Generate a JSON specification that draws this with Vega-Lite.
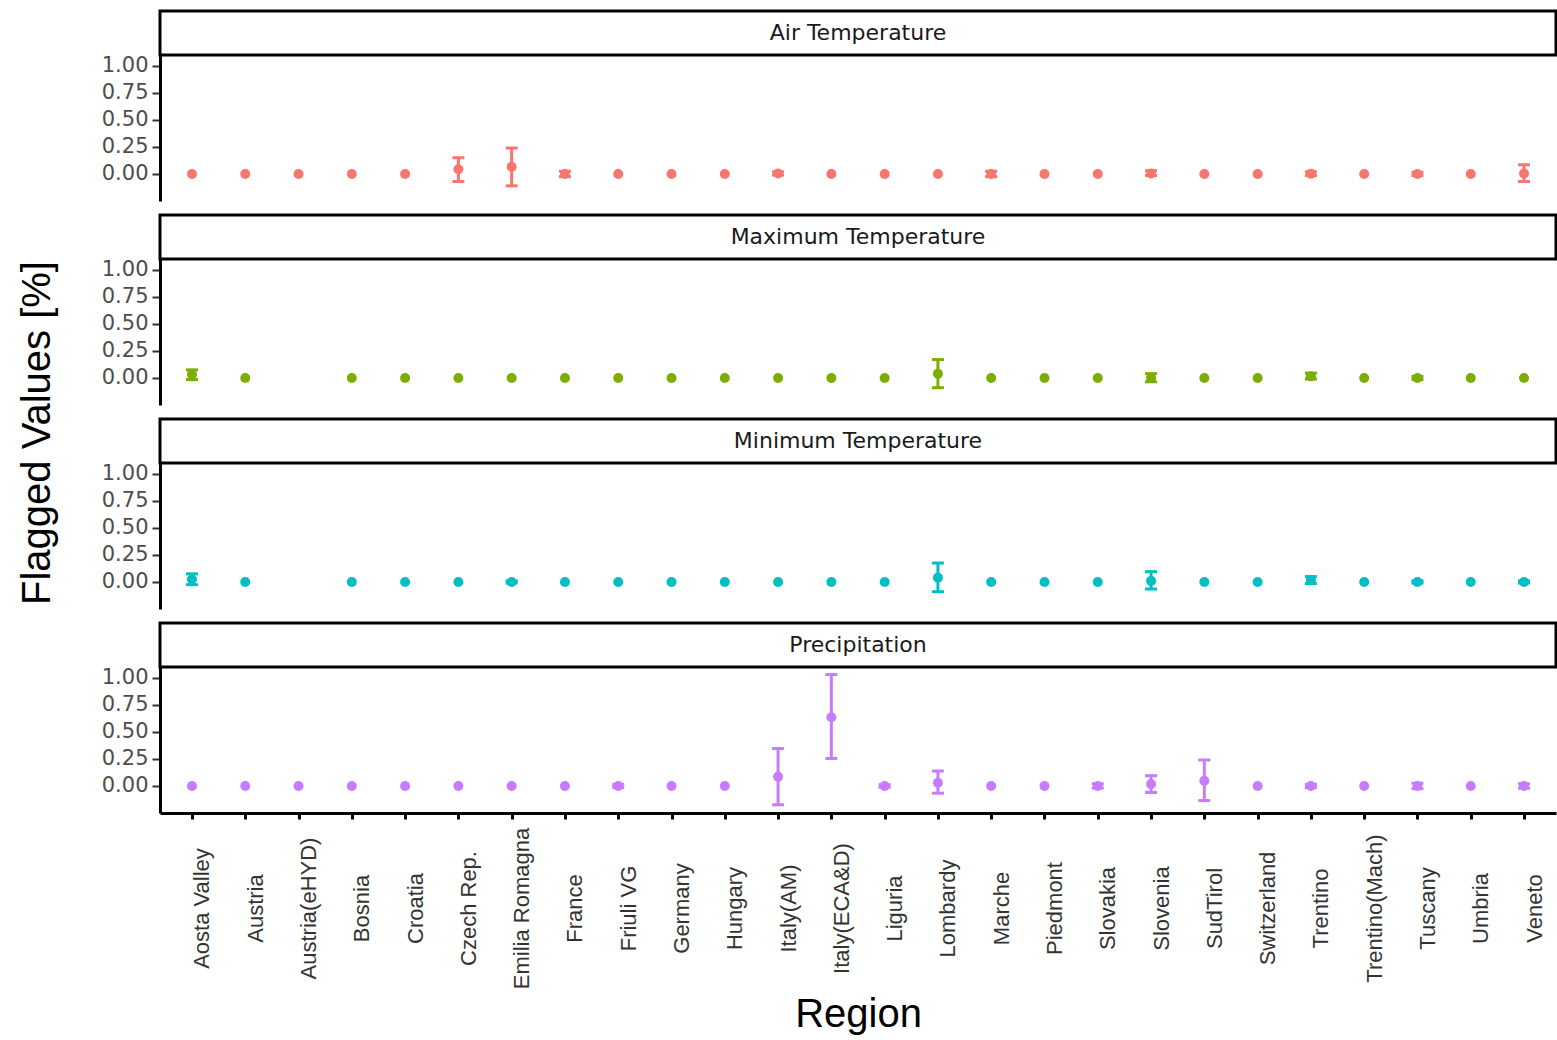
{
  "$schema": "https://vega.github.io/schema/vega-lite/v6.json",
  "autosize": {"type": "pad"},
  "padding": {"left": 17, "top": 9, "right": 0, "bottom": 0},
  "background": "white",
  "config": {
    "view": {"stroke": null},
    "font": "Liberation Sans",
    "axisY": {
      "grid": false,
      "format": ".2f",
      "title": null,
      "labelOverlap": false,
      "labelFont": "DejaVu Sans",
      "labelFontSize": 21,
      "labelColor": "#4d4d4d",
      "labelPadding": 4,
      "tickColor": "#333333",
      "tickWidth": 2,
      "tickSize": 8,
      "domainColor": "black",
      "domainWidth": 3
    }
  },
  "datasets": {
    "flags": [
      {"var": "Air Temperature", "region": "Aosta Valley", "val": 0, "lo": 0, "hi": 0},
      {"var": "Air Temperature", "region": "Austria", "val": 0, "lo": 0, "hi": 0},
      {"var": "Air Temperature", "region": "Austria(eHYD)", "val": 0, "lo": 0, "hi": 0},
      {"var": "Air Temperature", "region": "Bosnia", "val": 0, "lo": 0, "hi": 0},
      {"var": "Air Temperature", "region": "Croatia", "val": 0, "lo": 0, "hi": 0},
      {"var": "Air Temperature", "region": "Czech Rep.", "val": 0.043, "lo": -0.07, "hi": 0.15},
      {"var": "Air Temperature", "region": "Emilia Romagna", "val": 0.067, "lo": -0.11, "hi": 0.24},
      {"var": "Air Temperature", "region": "France", "val": 0, "lo": -0.025, "hi": 0.025},
      {"var": "Air Temperature", "region": "Friuli VG", "val": 0, "lo": 0, "hi": 0},
      {"var": "Air Temperature", "region": "Germany", "val": 0, "lo": 0, "hi": 0},
      {"var": "Air Temperature", "region": "Hungary", "val": 0, "lo": 0, "hi": 0},
      {"var": "Air Temperature", "region": "Italy(AM)", "val": 0.005, "lo": -0.01, "hi": 0.02},
      {"var": "Air Temperature", "region": "Italy(ECA&D)", "val": 0, "lo": 0, "hi": 0},
      {"var": "Air Temperature", "region": "Liguria", "val": 0, "lo": 0, "hi": 0},
      {"var": "Air Temperature", "region": "Lombardy", "val": 0, "lo": 0, "hi": 0},
      {"var": "Air Temperature", "region": "Marche", "val": 0, "lo": -0.025, "hi": 0.025},
      {"var": "Air Temperature", "region": "Piedmont", "val": 0, "lo": 0, "hi": 0},
      {"var": "Air Temperature", "region": "Slovakia", "val": 0, "lo": 0, "hi": 0},
      {"var": "Air Temperature", "region": "Slovenia", "val": 0.005, "lo": -0.015, "hi": 0.03},
      {"var": "Air Temperature", "region": "SudTirol", "val": 0, "lo": 0, "hi": 0},
      {"var": "Air Temperature", "region": "Switzerland", "val": 0, "lo": 0, "hi": 0},
      {"var": "Air Temperature", "region": "Trentino", "val": 0.003, "lo": -0.015, "hi": 0.02},
      {"var": "Air Temperature", "region": "Trentino(Mach)", "val": 0, "lo": 0, "hi": 0},
      {"var": "Air Temperature", "region": "Tuscany", "val": 0, "lo": -0.015, "hi": 0.015},
      {"var": "Air Temperature", "region": "Umbria", "val": 0, "lo": 0, "hi": 0},
      {"var": "Air Temperature", "region": "Veneto", "val": 0.005, "lo": -0.07, "hi": 0.085},

      {"var": "Maximum Temperature", "region": "Aosta Valley", "val": 0.032, "lo": -0.015, "hi": 0.075},
      {"var": "Maximum Temperature", "region": "Austria", "val": 0, "lo": 0, "hi": 0},
      {"var": "Maximum Temperature", "region": "Bosnia", "val": 0, "lo": 0, "hi": 0},
      {"var": "Maximum Temperature", "region": "Croatia", "val": 0, "lo": 0, "hi": 0},
      {"var": "Maximum Temperature", "region": "Czech Rep.", "val": 0, "lo": 0, "hi": 0},
      {"var": "Maximum Temperature", "region": "Emilia Romagna", "val": 0, "lo": 0, "hi": 0},
      {"var": "Maximum Temperature", "region": "France", "val": 0, "lo": 0, "hi": 0},
      {"var": "Maximum Temperature", "region": "Friuli VG", "val": 0, "lo": 0, "hi": 0},
      {"var": "Maximum Temperature", "region": "Germany", "val": 0, "lo": 0, "hi": 0},
      {"var": "Maximum Temperature", "region": "Hungary", "val": 0, "lo": 0, "hi": 0},
      {"var": "Maximum Temperature", "region": "Italy(AM)", "val": 0, "lo": 0, "hi": 0},
      {"var": "Maximum Temperature", "region": "Italy(ECA&D)", "val": 0, "lo": 0, "hi": 0},
      {"var": "Maximum Temperature", "region": "Liguria", "val": 0, "lo": 0, "hi": 0},
      {"var": "Maximum Temperature", "region": "Lombardy", "val": 0.04, "lo": -0.09, "hi": 0.17},
      {"var": "Maximum Temperature", "region": "Marche", "val": 0, "lo": 0, "hi": 0},
      {"var": "Maximum Temperature", "region": "Piedmont", "val": 0, "lo": 0, "hi": 0},
      {"var": "Maximum Temperature", "region": "Slovakia", "val": 0, "lo": 0, "hi": 0},
      {"var": "Maximum Temperature", "region": "Slovenia", "val": 0, "lo": -0.035, "hi": 0.04},
      {"var": "Maximum Temperature", "region": "SudTirol", "val": 0, "lo": 0, "hi": 0},
      {"var": "Maximum Temperature", "region": "Switzerland", "val": 0, "lo": 0, "hi": 0},
      {"var": "Maximum Temperature", "region": "Trentino", "val": 0.015, "lo": -0.01, "hi": 0.045},
      {"var": "Maximum Temperature", "region": "Trentino(Mach)", "val": 0, "lo": 0, "hi": 0},
      {"var": "Maximum Temperature", "region": "Tuscany", "val": 0, "lo": -0.015, "hi": 0.015},
      {"var": "Maximum Temperature", "region": "Umbria", "val": 0, "lo": 0, "hi": 0},
      {"var": "Maximum Temperature", "region": "Veneto", "val": 0, "lo": 0, "hi": 0},

      {"var": "Minimum Temperature", "region": "Aosta Valley", "val": 0.025, "lo": -0.025, "hi": 0.075},
      {"var": "Minimum Temperature", "region": "Austria", "val": 0, "lo": 0, "hi": 0},
      {"var": "Minimum Temperature", "region": "Bosnia", "val": 0, "lo": 0, "hi": 0},
      {"var": "Minimum Temperature", "region": "Croatia", "val": 0, "lo": 0, "hi": 0},
      {"var": "Minimum Temperature", "region": "Czech Rep.", "val": 0, "lo": 0, "hi": 0},
      {"var": "Minimum Temperature", "region": "Emilia Romagna", "val": 0, "lo": -0.01, "hi": 0.01},
      {"var": "Minimum Temperature", "region": "France", "val": 0, "lo": 0, "hi": 0},
      {"var": "Minimum Temperature", "region": "Friuli VG", "val": 0, "lo": 0, "hi": 0},
      {"var": "Minimum Temperature", "region": "Germany", "val": 0, "lo": 0, "hi": 0},
      {"var": "Minimum Temperature", "region": "Hungary", "val": 0, "lo": 0, "hi": 0},
      {"var": "Minimum Temperature", "region": "Italy(AM)", "val": 0, "lo": 0, "hi": 0},
      {"var": "Minimum Temperature", "region": "Italy(ECA&D)", "val": 0, "lo": 0, "hi": 0},
      {"var": "Minimum Temperature", "region": "Liguria", "val": 0, "lo": 0, "hi": 0},
      {"var": "Minimum Temperature", "region": "Lombardy", "val": 0.04, "lo": -0.09, "hi": 0.175},
      {"var": "Minimum Temperature", "region": "Marche", "val": 0, "lo": 0, "hi": 0},
      {"var": "Minimum Temperature", "region": "Piedmont", "val": 0, "lo": 0, "hi": 0},
      {"var": "Minimum Temperature", "region": "Slovakia", "val": 0, "lo": 0, "hi": 0},
      {"var": "Minimum Temperature", "region": "Slovenia", "val": 0.01, "lo": -0.065, "hi": 0.095},
      {"var": "Minimum Temperature", "region": "SudTirol", "val": 0, "lo": 0, "hi": 0},
      {"var": "Minimum Temperature", "region": "Switzerland", "val": 0, "lo": 0, "hi": 0},
      {"var": "Minimum Temperature", "region": "Trentino", "val": 0.015, "lo": -0.015, "hi": 0.05},
      {"var": "Minimum Temperature", "region": "Trentino(Mach)", "val": 0, "lo": 0, "hi": 0},
      {"var": "Minimum Temperature", "region": "Tuscany", "val": 0, "lo": -0.01, "hi": 0.01},
      {"var": "Minimum Temperature", "region": "Umbria", "val": 0, "lo": 0, "hi": 0},
      {"var": "Minimum Temperature", "region": "Veneto", "val": 0, "lo": -0.01, "hi": 0.01},

      {"var": "Precipitation", "region": "Aosta Valley", "val": 0, "lo": 0, "hi": 0},
      {"var": "Precipitation", "region": "Austria", "val": 0, "lo": 0, "hi": 0},
      {"var": "Precipitation", "region": "Austria(eHYD)", "val": 0, "lo": 0, "hi": 0},
      {"var": "Precipitation", "region": "Bosnia", "val": 0, "lo": 0, "hi": 0},
      {"var": "Precipitation", "region": "Croatia", "val": 0, "lo": 0, "hi": 0},
      {"var": "Precipitation", "region": "Czech Rep.", "val": 0, "lo": 0, "hi": 0},
      {"var": "Precipitation", "region": "Emilia Romagna", "val": 0, "lo": 0, "hi": 0},
      {"var": "Precipitation", "region": "France", "val": 0, "lo": 0, "hi": 0},
      {"var": "Precipitation", "region": "Friuli VG", "val": 0, "lo": -0.015, "hi": 0.015},
      {"var": "Precipitation", "region": "Germany", "val": 0, "lo": 0, "hi": 0},
      {"var": "Precipitation", "region": "Hungary", "val": 0, "lo": 0, "hi": 0},
      {"var": "Precipitation", "region": "Italy(AM)", "val": 0.085, "lo": -0.174, "hi": 0.346},
      {"var": "Precipitation", "region": "Italy(ECA&D)", "val": 0.636, "lo": 0.254, "hi": 1.03},
      {"var": "Precipitation", "region": "Liguria", "val": 0, "lo": -0.012, "hi": 0.012},
      {"var": "Precipitation", "region": "Lombardy", "val": 0.03, "lo": -0.067, "hi": 0.138},
      {"var": "Precipitation", "region": "Marche", "val": 0, "lo": 0, "hi": 0},
      {"var": "Precipitation", "region": "Piedmont", "val": 0, "lo": 0, "hi": 0},
      {"var": "Precipitation", "region": "Slovakia", "val": 0, "lo": -0.02, "hi": 0.02},
      {"var": "Precipitation", "region": "Slovenia", "val": 0.018, "lo": -0.06, "hi": 0.095},
      {"var": "Precipitation", "region": "SudTirol", "val": 0.049, "lo": -0.135, "hi": 0.24},
      {"var": "Precipitation", "region": "Switzerland", "val": 0, "lo": 0, "hi": 0},
      {"var": "Precipitation", "region": "Trentino", "val": 0, "lo": -0.015, "hi": 0.015},
      {"var": "Precipitation", "region": "Trentino(Mach)", "val": 0, "lo": 0, "hi": 0},
      {"var": "Precipitation", "region": "Tuscany", "val": 0, "lo": -0.025, "hi": 0.025},
      {"var": "Precipitation", "region": "Umbria", "val": 0, "lo": 0, "hi": 0},
      {"var": "Precipitation", "region": "Veneto", "val": 0, "lo": -0.02, "hi": 0.02}
    ]
  },
  "spacing": 43,
  "hconcat": [
    {
      "width": 40, "height": 844,
      "data": {"values": [{"label": "Flagged Values [%]"}]},
      "mark": {"type": "text", "font": "Liberation Sans", "fontSize": 40, "color": "black", "angle": 270, "align": "center", "baseline": "middle"},
      "encoding": {"text": {"field": "label"}}
    },
    {
      "spacing": 12,
      "vconcat": [
        {
          "bounds": "flush",
          "spacing": 0,
          "vconcat": [
            {
              "width": 1396, "height": 44,
              "data": {"values": [{"label": "Air Temperature"}]},
              "view": {"stroke": "black", "strokeWidth": 3},
              "mark": {"type": "text", "font": "DejaVu Sans", "fontSize": 22, "color": "#1a1a1a"},
              "encoding": {"text": {"field": "label"}}
            },
            {
              "width": 1396, "height": 146,
              "data": {"name": "flags"},
              "transform": [{"filter": "datum.var === 'Air Temperature'"}],
              "encoding": {"x": {"field": "region", "type": "nominal", "axis": null,
                "scale": {"type": "point", "padding": 0.6, "domain": ["Aosta Valley","Austria","Austria(eHYD)","Bosnia","Croatia","Czech Rep.","Emilia Romagna","France","Friuli VG","Germany","Hungary","Italy(AM)","Italy(ECA&D)","Liguria","Lombardy","Marche","Piedmont","Slovakia","Slovenia","SudTirol","Switzerland","Trentino","Trentino(Mach)","Tuscany","Umbria","Veneto"]}}},
              "layer": [
                {"transform": [{"filter": "datum.hi > datum.lo"}], "mark": {"type": "rule", "strokeWidth": 3, "color": "#F8766D"},
                 "encoding": {"y": {"field": "lo", "type": "quantitative", "scale": {"domain": [-0.25, 1.1], "nice": false, "zero": false}, "axis": {"title": null, "values": [0, 0.25, 0.5, 0.75, 1]}}, "y2": {"field": "hi"}}},
                {"transform": [{"filter": "datum.hi > datum.lo"}], "mark": {"type": "tick", "thickness": 3, "size": 12, "color": "#F8766D", "opacity": 1},
                 "encoding": {"y": {"field": "lo", "type": "quantitative", "axis": {"title": null, "values": [0, 0.25, 0.5, 0.75, 1]}}}},
                {"transform": [{"filter": "datum.hi > datum.lo"}], "mark": {"type": "tick", "thickness": 3, "size": 12, "color": "#F8766D", "opacity": 1},
                 "encoding": {"y": {"field": "hi", "type": "quantitative", "axis": {"title": null, "values": [0, 0.25, 0.5, 0.75, 1]}}}},
                {"mark": {"type": "point", "filled": true, "size": 100, "opacity": 1, "color": "#F8766D"},
                 "encoding": {"y": {"field": "val", "type": "quantitative", "axis": {"title": null, "values": [0, 0.25, 0.5, 0.75, 1]}}}}
              ]
            }
          ]
        },
        {
          "bounds": "flush",
          "spacing": 0,
          "vconcat": [
            {
              "width": 1396, "height": 44,
              "data": {"values": [{"label": "Maximum Temperature"}]},
              "view": {"stroke": "black", "strokeWidth": 3},
              "mark": {"type": "text", "font": "DejaVu Sans", "fontSize": 22, "color": "#1a1a1a"},
              "encoding": {"text": {"field": "label"}}
            },
            {
              "width": 1396, "height": 146,
              "data": {"name": "flags"},
              "transform": [{"filter": "datum.var === 'Maximum Temperature'"}],
              "encoding": {"x": {"field": "region", "type": "nominal", "axis": null,
                "scale": {"type": "point", "padding": 0.6, "domain": ["Aosta Valley","Austria","Austria(eHYD)","Bosnia","Croatia","Czech Rep.","Emilia Romagna","France","Friuli VG","Germany","Hungary","Italy(AM)","Italy(ECA&D)","Liguria","Lombardy","Marche","Piedmont","Slovakia","Slovenia","SudTirol","Switzerland","Trentino","Trentino(Mach)","Tuscany","Umbria","Veneto"]}}},
              "layer": [
                {"transform": [{"filter": "datum.hi > datum.lo"}], "mark": {"type": "rule", "strokeWidth": 3, "color": "#7CAE00"},
                 "encoding": {"y": {"field": "lo", "type": "quantitative", "scale": {"domain": [-0.25, 1.1], "nice": false, "zero": false}, "axis": {"title": null, "values": [0, 0.25, 0.5, 0.75, 1]}}, "y2": {"field": "hi"}}},
                {"transform": [{"filter": "datum.hi > datum.lo"}], "mark": {"type": "tick", "thickness": 3, "size": 12, "color": "#7CAE00", "opacity": 1},
                 "encoding": {"y": {"field": "lo", "type": "quantitative", "axis": {"title": null, "values": [0, 0.25, 0.5, 0.75, 1]}}}},
                {"transform": [{"filter": "datum.hi > datum.lo"}], "mark": {"type": "tick", "thickness": 3, "size": 12, "color": "#7CAE00", "opacity": 1},
                 "encoding": {"y": {"field": "hi", "type": "quantitative", "axis": {"title": null, "values": [0, 0.25, 0.5, 0.75, 1]}}}},
                {"mark": {"type": "point", "filled": true, "size": 100, "opacity": 1, "color": "#7CAE00"},
                 "encoding": {"y": {"field": "val", "type": "quantitative", "axis": {"title": null, "values": [0, 0.25, 0.5, 0.75, 1]}}}}
              ]
            }
          ]
        },
        {
          "bounds": "flush",
          "spacing": 0,
          "vconcat": [
            {
              "width": 1396, "height": 44,
              "data": {"values": [{"label": "Minimum Temperature"}]},
              "view": {"stroke": "black", "strokeWidth": 3},
              "mark": {"type": "text", "font": "DejaVu Sans", "fontSize": 22, "color": "#1a1a1a"},
              "encoding": {"text": {"field": "label"}}
            },
            {
              "width": 1396, "height": 146,
              "data": {"name": "flags"},
              "transform": [{"filter": "datum.var === 'Minimum Temperature'"}],
              "encoding": {"x": {"field": "region", "type": "nominal", "axis": null,
                "scale": {"type": "point", "padding": 0.6, "domain": ["Aosta Valley","Austria","Austria(eHYD)","Bosnia","Croatia","Czech Rep.","Emilia Romagna","France","Friuli VG","Germany","Hungary","Italy(AM)","Italy(ECA&D)","Liguria","Lombardy","Marche","Piedmont","Slovakia","Slovenia","SudTirol","Switzerland","Trentino","Trentino(Mach)","Tuscany","Umbria","Veneto"]}}},
              "layer": [
                {"transform": [{"filter": "datum.hi > datum.lo"}], "mark": {"type": "rule", "strokeWidth": 3, "color": "#00BFC4"},
                 "encoding": {"y": {"field": "lo", "type": "quantitative", "scale": {"domain": [-0.25, 1.1], "nice": false, "zero": false}, "axis": {"title": null, "values": [0, 0.25, 0.5, 0.75, 1]}}, "y2": {"field": "hi"}}},
                {"transform": [{"filter": "datum.hi > datum.lo"}], "mark": {"type": "tick", "thickness": 3, "size": 12, "color": "#00BFC4", "opacity": 1},
                 "encoding": {"y": {"field": "lo", "type": "quantitative", "axis": {"title": null, "values": [0, 0.25, 0.5, 0.75, 1]}}}},
                {"transform": [{"filter": "datum.hi > datum.lo"}], "mark": {"type": "tick", "thickness": 3, "size": 12, "color": "#00BFC4", "opacity": 1},
                 "encoding": {"y": {"field": "hi", "type": "quantitative", "axis": {"title": null, "values": [0, 0.25, 0.5, 0.75, 1]}}}},
                {"mark": {"type": "point", "filled": true, "size": 100, "opacity": 1, "color": "#00BFC4"},
                 "encoding": {"y": {"field": "val", "type": "quantitative", "axis": {"title": null, "values": [0, 0.25, 0.5, 0.75, 1]}}}}
              ]
            }
          ]
        },
        {
          "bounds": "flush",
          "spacing": 0,
          "vconcat": [
            {
              "width": 1396, "height": 44,
              "data": {"values": [{"label": "Precipitation"}]},
              "view": {"stroke": "black", "strokeWidth": 3},
              "mark": {"type": "text", "font": "DejaVu Sans", "fontSize": 22, "color": "#1a1a1a"},
              "encoding": {"text": {"field": "label"}}
            },
            {
              "width": 1396, "height": 146,
              "data": {"name": "flags"},
              "transform": [{"filter": "datum.var === 'Precipitation'"}],
              "encoding": {"x": {"field": "region", "type": "nominal",
                "scale": {"type": "point", "padding": 0.6, "domain": ["Aosta Valley","Austria","Austria(eHYD)","Bosnia","Croatia","Czech Rep.","Emilia Romagna","France","Friuli VG","Germany","Hungary","Italy(AM)","Italy(ECA&D)","Liguria","Lombardy","Marche","Piedmont","Slovakia","Slovenia","SudTirol","Switzerland","Trentino","Trentino(Mach)","Tuscany","Umbria","Veneto"]},
                "axis": {"title": "Region", "titleFont": "Liberation Sans", "titleFontSize": 40, "titleFontWeight": "normal", "titleColor": "black", "titlePadding": 6,
                  "labelAngle": 270, "labelAlign": "center", "labelBaseline": "top", "labelPadding": 89, "labelFont": "Liberation Sans", "labelFontSize": 22, "labelColor": "#333333", "labelOverlap": false, "labelLimit": 0,
                  "domainColor": "black", "domainWidth": 3, "tickColor": "black", "tickWidth": 3, "tickSize": 6}}},
              "layer": [
                {"transform": [{"filter": "datum.hi > datum.lo"}], "mark": {"type": "rule", "strokeWidth": 3, "color": "#C77CFF"},
                 "encoding": {"y": {"field": "lo", "type": "quantitative", "scale": {"domain": [-0.25, 1.1], "nice": false, "zero": false}, "axis": {"title": null, "values": [0, 0.25, 0.5, 0.75, 1]}}, "y2": {"field": "hi"}}},
                {"transform": [{"filter": "datum.hi > datum.lo"}], "mark": {"type": "tick", "thickness": 3, "size": 12, "color": "#C77CFF", "opacity": 1},
                 "encoding": {"y": {"field": "lo", "type": "quantitative", "axis": {"title": null, "values": [0, 0.25, 0.5, 0.75, 1]}}}},
                {"transform": [{"filter": "datum.hi > datum.lo"}], "mark": {"type": "tick", "thickness": 3, "size": 12, "color": "#C77CFF", "opacity": 1},
                 "encoding": {"y": {"field": "hi", "type": "quantitative", "axis": {"title": null, "values": [0, 0.25, 0.5, 0.75, 1]}}}},
                {"mark": {"type": "point", "filled": true, "size": 100, "opacity": 1, "color": "#C77CFF"},
                 "encoding": {"y": {"field": "val", "type": "quantitative", "axis": {"title": null, "values": [0, 0.25, 0.5, 0.75, 1]}}}}
              ]
            }
          ]
        }
      ]
    }
  ]
}
